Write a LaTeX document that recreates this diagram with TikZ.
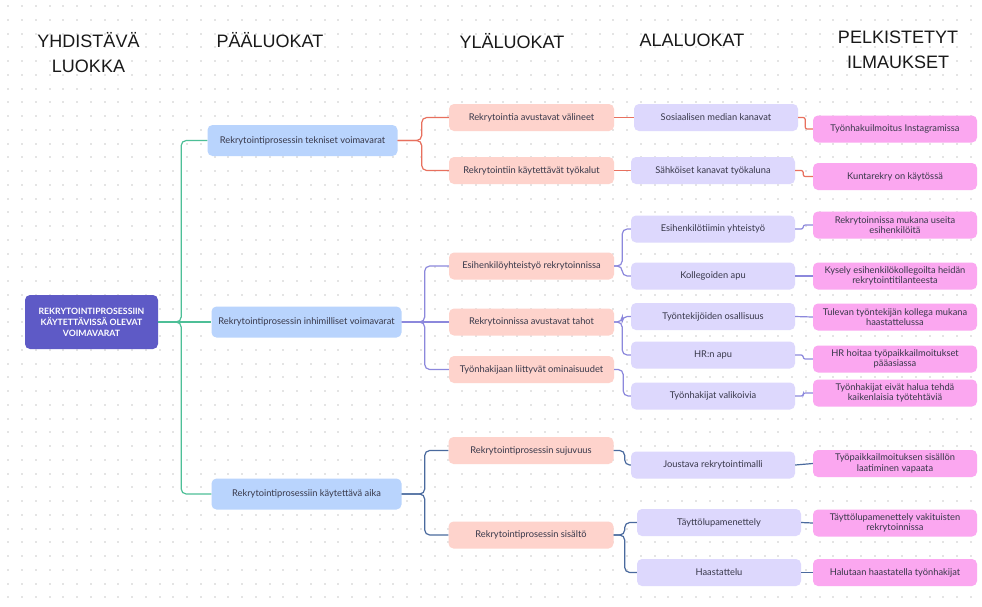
\documentclass[tikz,border=0pt]{standalone}
\usepackage{fontspec}
\setmainfont{Liberation Sans}
\newfontfamily\boxfont{Lato}

\definecolor{rootfill}{HTML}{5E5AC6}
\definecolor{mainfill}{HTML}{B9D4FD}
\definecolor{upperfill}{HTML}{FED3CC}
\definecolor{subfill}{HTML}{DDD8FD}
\definecolor{leaffill}{HTML}{FBA7F0}
\definecolor{greenline}{HTML}{4DBF97}
\definecolor{redline}{HTML}{E8705E}
\definecolor{purpleline}{HTML}{8C88DC}
\definecolor{navyline}{HTML}{4A6A9E}
\definecolor{dotgray}{HTML}{E4E4E4}
\definecolor{boxtext}{HTML}{38384A}

\begin{document}
\begin{tikzpicture}[x=1pt,y=-1pt,
    box/.style={rounded corners=5pt,align=center,inner sep=2pt,text=boxtext,font=\boxfont\fontsize{9.3}{10.5}\selectfont},
    root node/.style={box,fill=rootfill,minimum width=133pt,minimum height=54pt,text=white,font=\boxfont\bfseries\fontsize{8.7}{11}\selectfont},
    main node/.style={box,fill=mainfill,minimum width=190pt,minimum height=31pt},
    upper node/.style={box,fill=upperfill,minimum width=165pt,minimum height=27pt},
    sub node/.style={box,fill=subfill,minimum width=164pt,minimum height=27pt},
    leaf node/.style={box,fill=leaffill,minimum width=164pt,minimum height=27pt},
    header/.style={align=center,text=black!90,font=\fontsize{18}{25}\selectfont},
    branch/.style={line width=1.2pt,rounded corners=5pt,to path={(\tikztostart.east) -- ++(#1,0) |- (\tikztotarget.west)}},
    twig/.style={line width=1.2pt,rounded corners=2pt,to path={(\tikztostart.east) -- ++(#1,0) |- (\tikztotarget.west)}},
    link/.style={line width=1.2pt,to path={(\tikztostart.east) -- (\tikztotarget.west)}}]

    \useasboundingbox[fill=white] (0,0) rectangle (982,606);
    \foreach \i in {0,...,70}
        \foreach \j in {0,...,43}
            \fill[dotgray] ({7.3+13.75*\i},{5.05+13.75*\j}) rectangle ++(2,2);

    % column titles
    \node[header] (hcore) at (88.5,53) {YHDISTÄVÄ\\LUOKKA};
    \node[header] (hmain) at (270,40) {PÄÄLUOKAT};
    \node[header] (hupper) at (512,41.5) {YLÄLUOKAT};
    \node[header] (hsub) at (692,40) {ALALUOKAT};
    \node[header] (hleaf) at (898,50) {PELKISTETYT\\ILMAUKSET};

    \node[root node] (root) at (91.5,322) {REKRYTOINTIPROSESSIIN\\KÄYTETTÄVISSÄ OLEVAT\\VOIMAVARAT};

    \node[main node] (tech) at (302.5,140.5) {Rekrytointiprosessin tekniset voimavarat};
    \node[main node] (human) at (306.5,322) {Rekrytointiprosessin inhimilliset voimavarat};
    \node[main node] (time) at (306.5,494) {Rekrytointiprosessiin käytettävä aika};

    \node[upper node] (tools) at (531.5,117.5) {Rekrytointia avustavat välineet};
    \node[upper node] (equip) at (531.5,170.5) {Rekrytointiin käytettävät työkalut};
    \node[upper node] (coop) at (531.5,266) {Esihenkilöyhteistyö rekrytoinnissa};
    \node[upper node] (helpers) at (531.5,322) {Rekrytoinnissa avustavat tahot};
    \node[upper node] (seekers) at (531.5,369.5) {Työnhakijaan liittyvät ominaisuudet};
    \node[upper node] (flow) at (531,450.5) {Rekrytointiprosessin sujuvuus};
    \node[upper node] (content) at (531,535) {Rekrytointiprosessin sisältö};

    \node[sub node] (social) at (716,117.5) {Sosiaalisen median kanavat};
    \node[sub node] (digital) at (713,170.5) {Sähköiset kanavat työkaluna};
    \node[sub node] (team) at (713,229) {Esihenkilötiimin yhteistyö};
    \node[sub node] (peers) at (713,276) {Kollegoiden apu};
    \node[sub node] (staff) at (713,316.5) {Työntekijöiden osallisuus};
    \node[sub node] (hr) at (713,355) {HR:n apu};
    \node[sub node] (picky) at (713,396) {Työnhakijat valikoivia};
    \node[sub node] (flexible) at (713,465) {Joustava rekrytointimalli};
    \node[sub node] (permit) at (719,522.5) {Täyttölupamenettely};
    \node[sub node] (interview) at (719,572.5) {Haastattelu};

    \node[leaf node] (insta) at (895,129) {Työnhakuilmoitus Instagramissa};
    \node[leaf node] (kunta) at (895,176.5) {Kuntarekry on käytössä};
    \node[leaf node] (several) at (895,225) {Rekrytoinnissa mukana useita\\esihenkilöitä};
    \node[leaf node] (survey) at (895,276) {Kysely esihenkilökollegoilta heidän\\rekrytointitilanteesta};
    \node[leaf node] (future) at (895,317) {Tulevan työntekijän kollega mukana\\haastattelussa};
    \node[leaf node] (hrads) at (895,359) {HR hoitaa työpaikkailmoitukset\\pääasiassa};
    \node[leaf node] (tasks) at (895,393) {Työnhakijat eivät halua tehdä\\kaikenlaisia työtehtäviä};
    \node[leaf node] (adtext) at (895,463.5) {Työpaikkailmoituksen sisällön\\laatiminen vapaata};
    \node[leaf node] (permanent) at (895,523) {Täyttölupamenettely vakituisten\\rekrytoinnissa};
    \node[leaf node] (askall) at (895,572.5) {Halutaan haastatella työnhakijat};

    \path[draw=greenline]
        (root) edge[branch=23] (tech)
        (root) edge[link] (human)
        (root) edge[branch=23] (time);

    \path[draw=redline]
        (tech) edge[branch=24] (tools)
        (tech) edge[branch=24] (equip)
        (tools) edge[link] (social)
        (equip) edge[link] (digital)
        (social) edge[twig=7] (insta)
        (digital) edge[twig=8] (kunta);

    \path[draw=purpleline]
        (human) edge[branch=23] (coop)
        (human) edge[link] (helpers)
        (human) edge[branch=23] (seekers)
        (coop) edge[branch=8] (team)
        (coop) edge[branch=8] (peers)
        (helpers) edge[branch=8] (staff)
        (helpers) edge[branch=8] (hr)
        (seekers) edge[branch=9] (picky)
        (team) edge[twig=8] (several)
        (peers) edge[link] (survey)
        (staff) edge[link] (future)
        (hr) edge[twig=8] (hrads)
        (picky) edge[twig=8] (tasks);

    \path[draw=navyline]
        (time) edge[branch=23] (flow)
        (time) edge[branch=23] (content)
        (flow) edge[branch=11] (flexible)
        (content) edge[branch=11] (permit)
        (content) edge[branch=11] (interview)
        (flexible) edge[link] (adtext)
        (permit) edge[link] (permanent)
        (interview) edge[link] (askall);

\end{tikzpicture}
\end{document}
